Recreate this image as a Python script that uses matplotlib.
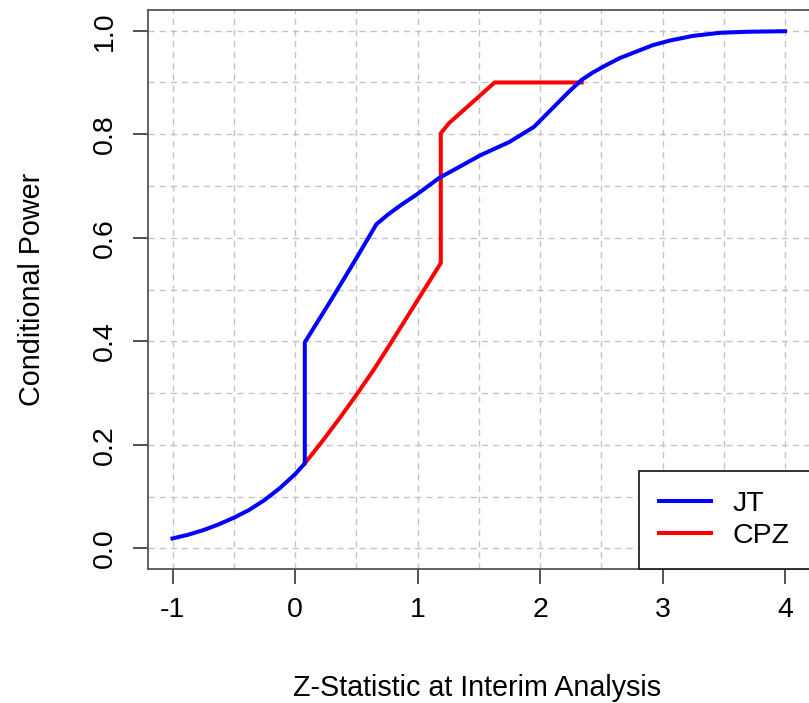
import matplotlib
matplotlib.use("Agg")
import matplotlib.pyplot as plt
import numpy as np

# ---- data ----
jt_x = [-1.0, -0.875, -0.75, -0.625, -0.5, -0.375, -0.25, -0.125, 0.0, 0.08,
        0.08, 0.28, 0.50, 0.664,
        0.76, 0.87, 0.99, 1.18, 1.35, 1.51, 1.75, 1.95,
        2.24, 2.34, 2.43, 2.52, 2.65, 2.79, 2.92, 3.06, 3.25, 3.47, 3.70, 4.0]
jt_y = [0.019, 0.026, 0.035, 0.046, 0.059, 0.074, 0.093, 0.116, 0.143, 0.164,
        0.398, 0.474, 0.560, 0.626,
        0.645, 0.664, 0.683, 0.716, 0.738, 0.759, 0.785, 0.814,
        0.883, 0.905, 0.919, 0.931, 0.947, 0.960, 0.972, 0.981, 0.990, 0.996, 0.998, 0.999]

cpz_x = [0.08, 0.23, 0.36, 0.50, 0.64, 0.77, 0.91, 1.05, 1.19, 1.19, 1.26, 1.63, 2.34]
cpz_y = [0.164, 0.209, 0.250, 0.296, 0.344, 0.392, 0.445, 0.498, 0.551, 0.802, 0.822, 0.900, 0.900]

x_ticks = [-1, 0, 1, 2, 3, 4]
y_ticks = [0.0, 0.2, 0.4, 0.6, 0.8, 1.0]
y_tick_labels = ["0.0", "0.2", "0.4", "0.6", "0.8", "1.0"]
series_names = ["JT", "CPZ"]
series_colors = ["#0000ff", "#ff0000"]

plt.rcParams['font.family'] = ['Liberation Sans', 'DejaVu Sans']

fig = plt.figure(figsize=(8.09, 7.03), dpi=100)
W, H = 809, 703
left, right, top, bottom = 148, 809.5, 10, 569
ax = fig.add_axes([left / W, 1 - bottom / H, (right - left) / W, (bottom - top) / H])

ax.set_xlim(-1.2, 4.2)
ax.set_ylim(-0.04, 1.04)

# grid
for gx in np.arange(-1, 4.01, 0.5):
    ax.axvline(gx, color="#c4c4c4", lw=1.0, linestyle=(0, (4.5, 3.5)), zorder=1)
for gy in np.arange(0, 1.001, 0.1):
    ax.axhline(gy, color="#c4c4c4", lw=1.0, linestyle=(0, (4.5, 3.5)), zorder=1)

ax.plot(cpz_x, cpz_y, color=series_colors[1], lw=2.9, label=series_names[1], zorder=3,
        solid_joinstyle='round')
ax.plot(jt_x, jt_y, color=series_colors[0], lw=2.9, label=series_names[0], zorder=4,
        solid_joinstyle='round')

ax.set_xticks(x_ticks)
ax.set_xticklabels([str(t) for t in x_ticks])
ax.set_yticks(y_ticks)
ax.set_yticklabels(y_tick_labels, rotation=90, va='center')

ax.tick_params(axis='both', length=11, width=1.1, color='#222222', labelsize=20.5,
               labelcolor='black')
ax.tick_params(axis='x', pad=9)
ax.tick_params(axis='y', pad=11)

for s in ax.spines.values():
    s.set_color('#555555')
    s.set_linewidth(1.3)

ax.set_xlabel("Z-Statistic at Interim Analysis", fontsize=20.7)
ax.set_ylabel("Conditional Power", fontsize=20.7)
ax.xaxis.set_label_coords((477 - left) / (right - left), -(688 - bottom) / (bottom - top))
ax.xaxis.label.set_verticalalignment('center')
ax.yaxis.set_label_coords(-(148 - 32) / (right - left), 0.5)
ax.yaxis.label.set_verticalalignment('center')

handles, labels = ax.get_legend_handles_labels()
order = [1, 0]
leg = ax.legend([handles[i] for i in order], [labels[i] for i in order],
                loc='lower right', bbox_to_anchor=(1, 0), borderaxespad=0,
                frameon=True, fancybox=False, framealpha=1, edgecolor='#222222',
                fontsize=20.5, handlelength=1.85, handletextpad=0.75,
                borderpad=0.7, labelspacing=0.22)
leg.get_frame().set_linewidth(1.3)
leg.set_zorder(10)

fig.savefig("out.png", dpi=100)
